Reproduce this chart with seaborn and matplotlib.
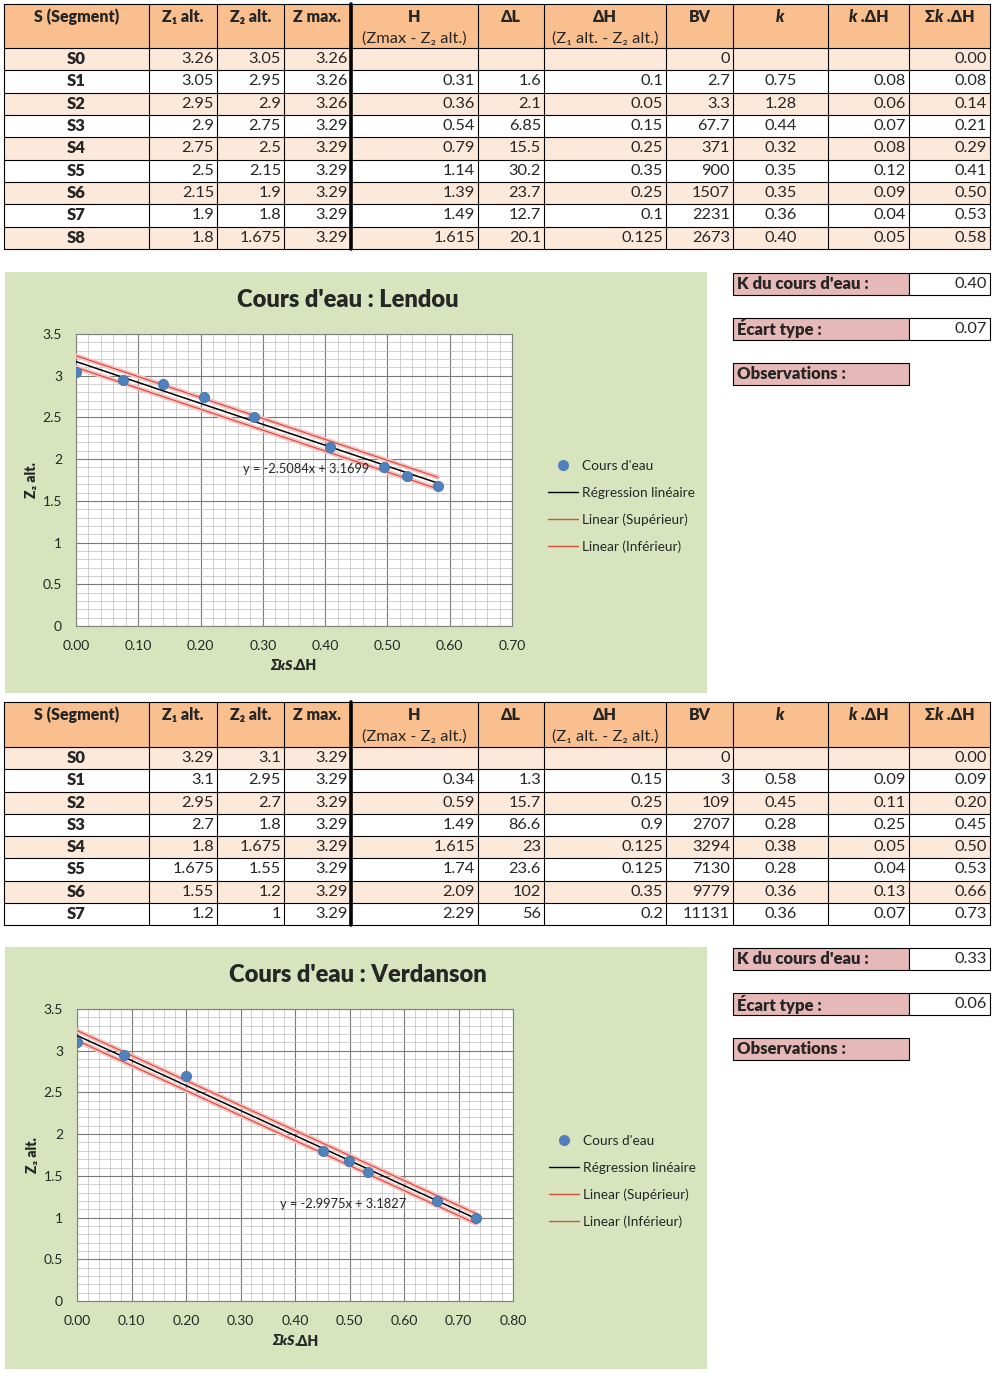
import numpy as np
import pandas as pd
import matplotlib
matplotlib.use("Agg")
import matplotlib.pyplot as plt
import matplotlib.patheffects as pe
from matplotlib.patches import Rectangle
from matplotlib.lines import Line2D
from matplotlib.ticker import MultipleLocator, FuncFormatter
import seaborn as sns

# ---------------- Lendou ----------------
lendou_seg = ["S0", "S1", "S2", "S3", "S4", "S5", "S6", "S7", "S8"]
lendou_z1 = ["3.26", "3.05", "2.95", "2.9", "2.75", "2.5", "2.15", "1.9", "1.8"]
lendou_z2 = ["3.05", "2.95", "2.9", "2.75", "2.5", "2.15", "1.9", "1.8", "1.675"]
lendou_zmax = ["3.26", "3.26", "3.26", "3.29", "3.29", "3.29", "3.29", "3.29", "3.29"]
lendou_h = ["", "0.31", "0.36", "0.54", "0.79", "1.14", "1.39", "1.49", "1.615"]
lendou_dl = ["", "1.6", "2.1", "6.85", "15.5", "30.2", "23.7", "12.7", "20.1"]
lendou_dh = ["", "0.1", "0.05", "0.15", "0.25", "0.35", "0.25", "0.1", "0.125"]
lendou_bv = ["0", "2.7", "3.3", "67.7", "371", "900", "1507", "2231", "2673"]
lendou_k = ["", "0.75", "1.28", "0.44", "0.32", "0.35", "0.35", "0.36", "0.40"]
lendou_kdh = ["", "0.08", "0.06", "0.07", "0.08", "0.12", "0.09", "0.04", "0.05"]
lendou_skdh = ["0.00", "0.08", "0.14", "0.21", "0.29", "0.41", "0.50", "0.53", "0.58"]
# unrounded cumulative k.dH as plotted
lendou_x = [0.0, 0.075, 0.139, 0.205, 0.285, 0.408, 0.495, 0.531, 0.581]
lendou_slope, lendou_icpt = -2.5084, 3.1699
lendou_K, lendou_std = "0.40", "0.07"

# ---------------- Verdanson ----------------
verd_seg = ["S0", "S1", "S2", "S3", "S4", "S5", "S6", "S7"]
verd_z1 = ["3.29", "3.1", "2.95", "2.7", "1.8", "1.675", "1.55", "1.2"]
verd_z2 = ["3.1", "2.95", "2.7", "1.8", "1.675", "1.55", "1.2", "1"]
verd_zmax = ["3.29"] * 8
verd_h = ["", "0.34", "0.59", "1.49", "1.615", "1.74", "2.09", "2.29"]
verd_dl = ["", "1.3", "15.7", "86.6", "23", "23.6", "102", "56"]
verd_dh = ["", "0.15", "0.25", "0.9", "0.125", "0.125", "0.35", "0.2"]
verd_bv = ["0", "3", "109", "2707", "3294", "7130", "9779", "11131"]
verd_k = ["", "0.58", "0.45", "0.28", "0.38", "0.28", "0.36", "0.36"]
verd_kdh = ["", "0.09", "0.11", "0.25", "0.05", "0.04", "0.13", "0.07"]
verd_skdh = ["0.00", "0.09", "0.20", "0.45", "0.50", "0.53", "0.66", "0.73"]
verd_x = [0.0, 0.087, 0.200, 0.452, 0.499, 0.534, 0.660, 0.732]
verd_slope, verd_icpt = -2.9975, 3.1827
verd_K, verd_std = "0.33", "0.06"

HEADER = "#FABF8F"
LIGHT = "#FDE9D9"
PINK = "#E6B8B7"
GREEN = "#D7E4BD"
BLUE = "#4F81BD"
RED = "#D9443C"

sns.set_style("white")
plt.rcParams["font.family"] = ["Lato", "DejaVu Sans"]

W, H = 998, 1376
fig = plt.figure(figsize=(W / 100, H / 100), dpi=100)
bg = fig.add_axes([0, 0, 1, 1], zorder=0)
bg.set_xlim(0, W)
bg.set_ylim(H, 0)
bg.axis("off")
renderer = fig.canvas.get_renderer()

BOLD = "heavy"
NUM = 11.8


def rich_text(x, y, parts, size, ha="center"):
    arts, widths = [], []
    for s, kw in parts:
        t = bg.text(0, y, s, fontsize=size, va="center", ha="left", **kw)
        widths.append(t.get_window_extent(renderer).width)
        arts.append(t)
    x0 = x - sum(widths) / 2 if ha == "center" else x
    for t, w in zip(arts, widths):
        t.set_x(x0)
        x0 += w


col_edges = [4, 149, 217, 284, 351, 478, 544, 666, 733, 828, 909, 990]
B = dict(fontweight=BOLD)
BI = dict(fontweight=BOLD, fontstyle="italic")
headers = [
    ([("S (Segment)", B)], None),
    ([("Z₁ alt.", B)], None),
    ([("Z₂ alt.", B)], None),
    ([("Z max.", B)], None),
    ([("H", B)], "(Zmax - Z₂ alt.)"),
    ([("ΔL", B)], None),
    ([("ΔH", B)], "(Z₁ alt. - Z₂ alt.)"),
    ([("BV", B)], None),
    ([("k", BI)], None),
    ([("k", BI), (" .ΔH", B)], None),
    ([("Σ", B), ("k", BI), (" .ΔH", B)], None),
]


def draw_table(top, hdr_h, row_h, seg, cols):
    n = len(seg)
    bottom = top + hdr_h + n * row_h
    bg.add_patch(Rectangle((col_edges[0], top), col_edges[-1] - col_edges[0], hdr_h,
                           facecolor=HEADER, edgecolor="none"))
    for i in range(n):
        y0 = top + hdr_h + i * row_h
        fc = LIGHT if i % 2 == 0 else "white"
        bg.add_patch(Rectangle((col_edges[0], y0), col_edges[-1] - col_edges[0], row_h,
                               facecolor=fc, edgecolor="none"))
    for y in [top, top + hdr_h] + [top + hdr_h + (i + 1) * row_h for i in range(n)]:
        bg.plot([col_edges[0], col_edges[-1]], [y, y], color="black", lw=0.8)
    for j, x in enumerate(col_edges):
        bg.plot([x, x], [top, bottom], color="black", lw=2.6 if j == 4 else 0.8)
    for j, (main, sub) in enumerate(headers):
        xc = (col_edges[j] + col_edges[j + 1]) / 2
        rich_text(xc, top + 13, main, 11.5)
        if sub:
            bg.text(xc, top + 35, sub, fontsize=NUM, ha="center", va="center")
    for i in range(n):
        yc = top + hdr_h + (i + 0.5) * row_h
        bg.text((col_edges[0] + col_edges[1]) / 2, yc, seg[i], fontsize=12,
                fontweight=BOLD, ha="center", va="center")
        for j, col in enumerate(cols):
            if j == 7:  # k column is centred
                bg.text((col_edges[j + 1] + col_edges[j + 2]) / 2, yc, col[i],
                        fontsize=NUM, ha="center", va="center")
            else:
                bg.text(col_edges[j + 2] - 3, yc, col[i], fontsize=NUM,
                        ha="right", va="center")


def side_boxes(ys, K, std):
    labels = ["K du cours d'eau :", "Écart type :", "Observations :"]
    vals = [K, std, None]
    for (y0, y1), lab, v in zip(ys, labels, vals):
        bg.add_patch(Rectangle((733, y0), 176, y1 - y0, facecolor=PINK,
                               edgecolor="black", lw=0.8))
        bg.text(737, (y0 + y1) / 2, lab, fontsize=12, fontweight=BOLD,
                va="center", ha="left")
        if v is not None:
            bg.add_patch(Rectangle((909, y0), 81, y1 - y0, facecolor="white",
                                   edgecolor="black", lw=0.8))
            bg.text(987, (y0 + y1) / 2, v, fontsize=NUM, va="center", ha="right")


def draw_chart(box, plot, title, title_xy, xs, z2, slope, icpt, std, xmax,
               eq_xy, ylab_xy, xlab_xy, leg_xy):
    x0, y0, x1, y1 = box
    bg.add_patch(Rectangle((x0, y0), x1 - x0, y1 - y0, facecolor=GREEN, edgecolor="none"))
    px0, py0, px1, py1 = plot
    ax = fig.add_axes([px0 / W, 1 - py1 / H, (px1 - px0) / W, (py1 - py0) / H], zorder=1)
    ax.set_facecolor("white")
    ys = [float(v) for v in z2]
    df = pd.DataFrame({"x": xs, "y": ys})
    xl = np.array([0.0, max(xs)])
    reg = icpt + slope * xl
    glow = [pe.Stroke(linewidth=3.4, foreground="#F5C4C0"), pe.Normal()]
    sns.lineplot(x=xl, y=reg + float(std), ax=ax, color=RED, lw=0.8, zorder=3,
                 path_effects=glow)
    sns.lineplot(x=xl, y=reg - float(std), ax=ax, color=RED, lw=0.8, zorder=3,
                 path_effects=glow)
    sns.lineplot(x=xl, y=reg, ax=ax, color="black", lw=1.1, zorder=4)
    sns.scatterplot(data=df, x="x", y="y", ax=ax, color=BLUE, s=55,
                    edgecolor="#3F6EA6", linewidth=0.5, zorder=5, legend=False)
    ax.set_xlim(0, xmax)
    ax.set_ylim(0, 3.5)
    ax.xaxis.set_major_locator(MultipleLocator(0.1))
    ax.xaxis.set_minor_locator(MultipleLocator(0.02))
    ax.yaxis.set_major_locator(MultipleLocator(0.5))
    ax.yaxis.set_minor_locator(MultipleLocator(0.1))
    ax.xaxis.set_major_formatter(FuncFormatter(lambda v, p: f"{v:.2f}"))
    ax.yaxis.set_major_formatter(FuncFormatter(lambda v, p: f"{v:g}"))
    ax.grid(which="major", color="#7A7A7A", lw=0.8)
    ax.grid(which="minor", color="#BDBDBD", lw=0.5)
    ax.set_axisbelow(True)
    ax.tick_params(which="major", length=4, color="#808080", labelsize=10,
                   direction="out", pad=6)
    ax.tick_params(which="minor", length=0)
    for s in ax.spines.values():
        s.set_color("#808080")
        s.set_linewidth(0.8)
    ax.set_xlabel("")
    ax.set_ylabel("")
    ax.text(eq_xy[0], eq_xy[1], f"y = {slope:.4f}x + {icpt:.4f}", fontsize=9.3,
            va="center", ha="left", transform=bg.transData, zorder=6)
    bg.text(title_xy[0], title_xy[1], title, fontsize=17, fontweight=BOLD,
            ha="center", va="center")
    bg.text(ylab_xy[0], ylab_xy[1], "Z₂ alt.", fontsize=10, fontweight=BOLD,
            rotation=90, ha="center", va="center")
    rich_text(xlab_xy[0], xlab_xy[1], [("ΣkS", BI), (".ΔH", B)], 10)
    handles = [
        Line2D([], [], ls="none", marker="o", color=BLUE, markersize=7),
        Line2D([], [], color="black", lw=1.0),
        Line2D([], [], color="#D2553F", lw=1.0),
        Line2D([], [], color="#D2553F", lw=1.0),
    ]
    labels = ["Cours d'eau", "Régression linéaire", "Linear (Supérieur)", "Linear (Inférieur)"]
    ax.legend(handles, labels, loc="upper left", bbox_to_anchor=leg_xy,
              bbox_transform=bg.transData, frameon=False, fontsize=9.8,
              handlelength=2.2, handletextpad=0.3, labelspacing=1.08,
              borderpad=0, borderaxespad=0)
    return ax


lendou_cols = [lendou_z1, lendou_z2, lendou_zmax, lendou_h, lendou_dl, lendou_dh,
               lendou_bv, lendou_k, lendou_kdh, lendou_skdh]
verd_cols = [verd_z1, verd_z2, verd_zmax, verd_h, verd_dl, verd_dh,
             verd_bv, verd_k, verd_kdh, verd_skdh]

draw_table(4, 44, 22.33, lendou_seg, lendou_cols)
draw_table(702, 45, 22.25, verd_seg, verd_cols)

side_boxes([(273, 295), (318, 340), (363, 385)], lendou_K, lendou_std)
side_boxes([(948, 970), (993, 1015), (1038, 1060)], verd_K, verd_std)

draw_chart((5, 272, 707, 693), (76, 334, 512, 626), "Cours d'eau : Lendou", (348, 300),
           lendou_x, lendou_z2, lendou_slope, lendou_icpt, lendou_std, 0.70,
           (243, 469), (32, 480), (294, 666), (548, 460))
draw_chart((5, 947, 707, 1369), (77, 1009, 513, 1301), "Cours d'eau : Verdanson", (358, 975),
           verd_x, verd_z2, verd_slope, verd_icpt, verd_std, 0.80,
           (280, 1204), (33, 1155), (296, 1341), (549, 1135))

fig.savefig("out.png", dpi=100, facecolor="white")
